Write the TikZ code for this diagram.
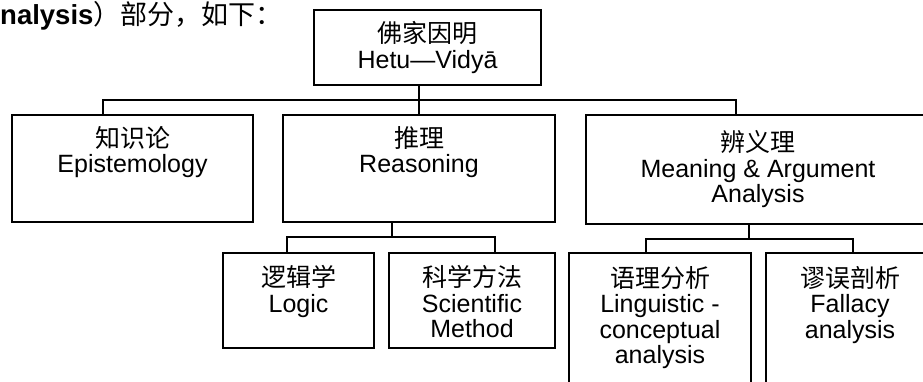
\documentclass[tikz,border=0pt]{standalone}
\usepackage{fontspec}
\setmainfont{Liberation Sans}
\newfontfamily\cjk{Noto Sans CJK SC}
\usetikzlibrary{positioning}

\begin{document}
\begin{tikzpicture}[x=1pt,y=-1pt,
    box/.style={draw, line width=1.6pt, inner sep=0pt},
    txt/.style={align=center, inner sep=0pt, font=\fontsize{25}{25.5}\selectfont},
    link/.style={line width=1.4pt}]
  \useasboundingbox (0,0) rectangle (923,381);
  \clip (0,0) rectangle (923,381);

  % line of text above the chart
  \node[anchor=base west, inner sep=0pt] (intro) at (0,24)
    {\fontsize{27.5}{28}\selectfont\bfseries nalysis\mdseries\cjk\fontsize{27}{28}\selectfont ）部分，如下：};

  % top box
  \node[box, minimum width=227pt, minimum height=75pt] (hetu) at (427.5,47.5) {};
  \node[txt, below=12pt of hetu.north] (hetut) {{\cjk 佛家因明}\\Hetu—Vidyā};

  % second row
  \node[box, minimum width=241pt, minimum height=107pt] (epi) at (132.5,168.5) {};
  \node[txt, below=12pt of epi.north] (epit) {{\cjk 知识论}\\Epistemology};
  \node[box, minimum width=272pt, minimum height=107pt] (rea) at (419,168.5) {};
  \node[txt, below=12pt of rea.north] (reat) {{\cjk 推理}\\Reasoning};
  \node[box, minimum width=344pt, minimum height=109pt] (mea) at (758,169.5) {};
  \node[txt, below=16pt of mea.north] (meat) {{\cjk 辨义理}\\Meaning \& Argument\\Analysis};

  % third row
  \node[box, minimum width=151pt, minimum height=95pt] (logic) at (298.5,300.5) {};
  \node[txt, below=13pt of logic.north] (logict) {{\cjk 逻辑学}\\Logic};
  \node[box, minimum width=166pt, minimum height=95pt] (sci) at (472,300.5) {};
  \node[txt, below=13pt of sci.north] (scit) {{\cjk 科学方法}\\Scientific\\Method};
  \node[box, minimum width=182pt, minimum height=152pt] (ling) at (660,329) {};
  \node[txt, below=14pt of ling.north] (lingt) {{\cjk 语理分析}\\Linguistic -\\conceptual\\analysis};
  \node[box, minimum width=168pt, minimum height=152pt] (fal) at (850,329) {};
  \node[txt, below=14pt of fal.north] (falt) {{\cjk 谬误剖析}\\Fallacy\\analysis};

  % connectors, first level
  \coordinate (busL) at (103,100);
  \coordinate (busR) at (736,100);
  \draw[link] (rea.north |- hetu.south) -- (rea.north);
  \draw[link] (busL |- epi.north) -- (busL) -- (busR) -- (busR |- mea.north);

  % connectors under Reasoning
  \coordinate (reaJ) at (392,237);
  \coordinate (logJ) at (287,237);
  \coordinate (sciJ) at (495,237);
  \draw[link] (reaJ |- rea.south) -- (reaJ);
  \draw[link] (logJ |- logic.north) -- (logJ) -- (sciJ) -- (sciJ |- sci.north);

  % connectors under Meaning
  \coordinate (meaJ) at (749,239);
  \coordinate (linJ) at (646,239);
  \coordinate (falJ) at (853,239);
  \draw[link] (meaJ |- mea.south) -- (meaJ);
  \draw[link] (linJ |- ling.north) -- (linJ) -- (falJ) -- (falJ |- fal.north);
\end{tikzpicture}
\end{document}
